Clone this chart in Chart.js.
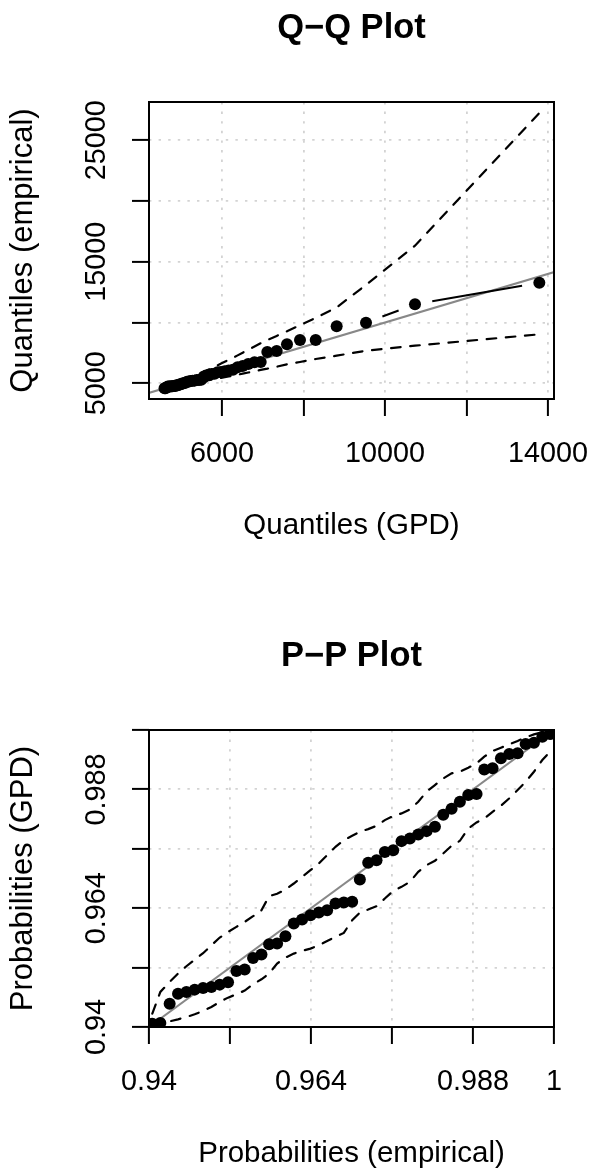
<!DOCTYPE html>
<html>
<head>
<meta charset="utf-8">
<title>GPD diagnostics</title>
<script src="https://cdn.jsdelivr.net/npm/chart.js@4.4.1/dist/chart.umd.min.js"></script>
<style>
  html, body { margin: 0; padding: 0; background: #fff; overflow: hidden; }
  #wrap { position: relative; width: 593px; height: 1170px; overflow: hidden; background: #fff; }
  .panel { position: absolute; left: 0; width: 593px; height: 628px; }
</style>
</head>
<body>
<div id="wrap">
  <div class="panel" style="top:0"><canvas id="qq" width="593" height="628"></canvas></div>
  <div class="panel" style="top:628px"><canvas id="pp" width="593" height="628"></canvas></div>
</div>
<script>
// ---- Q-Q data: theoretical GPD quantiles vs. sorted exceedances ----
const qqTheoretical = [4590, 4615, 4644, 4671, 4699, 4728, 4757, 4787, 4818, 4850,
  4883, 4917, 4953, 4989, 5024, 5061, 5101, 5143, 5187, 5232,
  5279, 5328, 5380, 5434, 5490, 5545, 5607, 5673, 5742, 5816,
  5894, 5978, 6068, 6164, 6269, 6383, 6508, 6644, 6798, 6950,
  7112, 7342, 7595, 7914, 8299, 8814, 9534, 10736, 13787];
const qqEmpirical = [4594, 4597, 4681, 4727, 4735, 4746, 4754, 4759, 4770, 4782,
  4840, 4847, 4911, 4930, 4991, 4995, 5041, 5125, 5152, 5183,
  5203, 5220, 5271, 5279, 5284, 5476, 5644, 5673, 5765, 5789,
  5903, 5939, 5996, 6044, 6111, 6316, 6432, 6582, 6740, 6750,
  7576, 7658, 8210, 8564, 8564, 9691, 9988, 11502, 13280];
const qqUpper = [4700, 4734, 4772, 4809, 4846, 4885, 4924, 4964, 5006, 5049,
  5093, 5139, 5187, 5235, 5281, 5328, 5379, 5433, 5489, 5547,
  5607, 5670, 5736, 5806, 5877, 5948, 6027, 6128, 6241, 6361,
  6488, 6625, 6772, 6928, 7099, 7297, 7518, 7759, 8031, 8300,
  8560, 8900, 9280, 9780, 10380, 11250, 13100, 16325, 27247];
const qqLower = [4510, 4528, 4548, 4567, 4587, 4608, 4628, 4649, 4671, 4694,
  4717, 4741, 4767, 4792, 4816, 4841, 4868, 4896, 4926, 4956,
  4987, 5020, 5055, 5092, 5129, 5166, 5208, 5250, 5294, 5340,
  5390, 5443, 5499, 5560, 5628, 5707, 5793, 5887, 5993, 6100,
  6202, 6366, 6564, 6753, 7000, 7272, 7683, 8095, 9033];
const qqDiagonal = [4000, 15000];
const qqXTicks = [6000, 8000, 10000, 12000, 14000];
const qqXLabels = ['6000', '', '10000', '', '14000'];
const qqYTicks = [5000, 10000, 15000, 20000, 25000];
const qqYLabels = ['5000', '', '15000', '', '25000'];

// ---- P-P data: empirical vs. fitted GPD probabilities ----
const ppEmpirical = [0.94049, 0.94168, 0.94306, 0.94430, 0.94554, 0.94677, 0.94801, 0.94924, 0.95048, 0.95171,
  0.95295, 0.95418, 0.95542, 0.95666, 0.95779, 0.95898, 0.96021, 0.96145, 0.96268, 0.96392,
  0.96516, 0.96639, 0.96763, 0.96886, 0.97010, 0.97124, 0.97247, 0.97371, 0.97494, 0.97618,
  0.97741, 0.97865, 0.97989, 0.98112, 0.98236, 0.98359, 0.98483, 0.98606, 0.98730, 0.98853,
  0.98967, 0.99090, 0.99214, 0.99337, 0.99461, 0.99580, 0.99703, 0.99827, 0.99941];
const ppModel = [0.94067, 0.94081, 0.94472, 0.94674, 0.94708, 0.94755, 0.94789, 0.94809, 0.94856, 0.94903,
  0.95133, 0.95160, 0.95396, 0.95463, 0.95672, 0.95685, 0.95834, 0.96090, 0.96171, 0.96258,
  0.96312, 0.96360, 0.96494, 0.96515, 0.96528, 0.96980, 0.97317, 0.97371, 0.97533, 0.97573,
  0.97755, 0.97809, 0.97890, 0.97957, 0.98045, 0.98288, 0.98409, 0.98551, 0.98685, 0.98706,
  0.99204, 0.99225, 0.99427, 0.99515, 0.99528, 0.99717, 0.99744, 0.99865, 0.99919];
const ppUpper = [0.94270, 0.94708, 0.94910, 0.95079, 0.95227, 0.95362, 0.95490, 0.95650, 0.95807, 0.95921,
  0.96022, 0.96124, 0.96238, 0.96360, 0.96643, 0.96690, 0.96778, 0.96899, 0.97034, 0.97169,
  0.97303, 0.97472, 0.97640, 0.97775, 0.97863, 0.97944, 0.97998, 0.98065, 0.98180, 0.98261,
  0.98315, 0.98396, 0.98551, 0.98753, 0.98888, 0.99022, 0.99124, 0.99157, 0.99238, 0.99326,
  0.99461, 0.99575, 0.99643, 0.99710, 0.99778, 0.99852, 0.99912, 0.99953, 0.99987];
const ppLower = [0.94054, 0.94067, 0.94115, 0.94155, 0.94202, 0.94256, 0.94324, 0.94404, 0.94506, 0.94593,
  0.94661, 0.94735, 0.94863, 0.94964, 0.95079, 0.95281, 0.95402, 0.95483, 0.95537, 0.95584,
  0.95652, 0.95739, 0.95820, 0.95901, 0.96157, 0.96312, 0.96373, 0.96440, 0.96596, 0.96751,
  0.96831, 0.96933, 0.97135, 0.97270, 0.97357, 0.97506, 0.97661, 0.97762, 0.98011, 0.98133,
  0.98213, 0.98348, 0.98470, 0.98618, 0.98787, 0.98955, 0.99157, 0.99393, 0.99562];
const ppDiagonal = [0.94, 1];
const ppTicks = [0.94, 0.952, 0.964, 0.976, 0.988, 1];
const ppXLabels = ['0.94', '', '0.964', '', '0.988', '1'];
const ppYLabels = ['0.94', '', '0.964', '', '0.988', ''];

// ---- shared styling ----
Chart.defaults.font.family = "'Liberation Sans', Arial, Helvetica, sans-serif";
Chart.defaults.color = '#000';

const TICK_FONT = 28.8;
const XLAB_FONT = 29.5;
const YLAB_FONT = 31;
const MAIN_FONT = 34.5;
const LEFT_W = 149;     // width of the left axis band
const BOTTOM_H = 229;   // height of the bottom axis band
const GAP = 17.5;       // gap left around each point by the connecting line

const pairs = (xs, ys) => xs.map((x, i) => ({ x: x, y: ys[i] }));

// draw the closed box around the plotting region
const frame = {
  id: 'frame',
  afterDatasetsDraw(chart) {
    const { ctx, chartArea: a } = chart;
    ctx.save();
    ctx.strokeStyle = '#000';
    ctx.lineWidth = 2;
    ctx.strokeRect(a.left, a.top, a.right - a.left, a.bottom - a.top);
    ctx.restore();
  }
};

// solid segments that stop short of both end points (like R's type = "b")
function gapped(ctx) {
  const len = Math.hypot(ctx.p1.x - ctx.p0.x, ctx.p1.y - ctx.p0.y);
  if (len <= 2 * GAP) return [0, len + 50];
  return [0, GAP, len - 2 * GAP, GAP + 50];
}

function axis(position, min, max, ticks, labels, title, labelPad) {
  const vertical = position === 'left';
  return {
    type: 'linear',
    position: position,
    min: min,
    max: max,
    bounds: 'data',
    afterBuildTicks: (s) => { s.ticks = ticks.map(v => ({ value: v })); },
    afterFit: (s) => {
      if (vertical) s.width = LEFT_W; else s.height = BOTTOM_H;
      s.paddingLeft = 0; s.paddingRight = 0; s.paddingTop = 0; s.paddingBottom = 0;
    },
    ticks: {
      autoSkip: false,
      callback: (v, i) => labels[i],
      font: { size: TICK_FONT },
      color: '#000',
      padding: labelPad,
      minRotation: vertical ? 90 : 0,
      maxRotation: vertical ? 90 : 0,
      crossAlign: vertical ? 'center' : 'near'
    },
    grid: {
      color: '#d3d3d3',
      lineWidth: 1.8,
      drawTicks: true,
      tickLength: 17,
      tickColor: '#000',
      tickWidth: 2
    },
    border: { display: false, dash: [2.4, 7.2] },
    title: {
      display: true,
      text: title,
      font: { size: vertical ? YLAB_FONT : XLAB_FONT },
      color: '#000',
      padding: vertical ? { top: 5, bottom: 0 } : { top: 0, bottom: 84 }
    }
  };
}

function band(xs, ys) {
  return {
    data: pairs(xs, ys), showLine: true, pointRadius: 0, borderColor: '#000',
    borderWidth: 2.2, borderDash: [9.6, 9.6], borderCapStyle: 'round', order: 4, clip: 0
  };
}

function diagonal(vals) {
  return {
    data: vals.map(v => ({ x: v, y: v })), showLine: true, pointRadius: 0,
    borderColor: '#888888', borderWidth: 2, order: 3, clip: 0
  };
}

function points(xs, ys) {
  return {
    data: pairs(xs, ys), showLine: false, pointRadius: 6, pointBackgroundColor: '#000',
    pointBorderWidth: 0, pointBorderColor: '#000', order: 0, clip: 0
  };
}

function baseOptions(titleText, xAxis, yAxis) {
  return {
    responsive: false,
    animation: false,
    events: [],
    layout: { padding: { left: 0, right: 39, top: 0, bottom: 0 } },
    plugins: {
      legend: { display: false },
      tooltip: { enabled: false },
      title: {
        display: true, text: titleText, fullSize: false, color: '#000',
        font: { size: MAIN_FONT, weight: 'bold', lineHeight: 1.2 },
        padding: { top: 8, bottom: 52.6 }
      }
    },
    scales: { x: xAxis, y: yAxis }
  };
}

new Chart(document.getElementById('qq'), {
  type: 'scatter',
  data: {
    datasets: [
      points(qqTheoretical, qqEmpirical),
      {
        data: pairs(qqTheoretical, qqEmpirical), showLine: true, pointRadius: 0,
        borderColor: '#000', borderWidth: 2, segment: { borderDash: gapped }, order: 1, clip: 0
      },
      diagonal(qqDiagonal),
      band(qqTheoretical, qqUpper),
      band(qqTheoretical, qqLower)
    ]
  },
  options: baseOptions('Q\u2212Q Plot',
    axis('bottom', 4209, 14147, qqXTicks, qqXLabels, 'Quantiles (GPD)', 21),
    axis('left', 3708, 28152, qqYTicks, qqYLabels, 'Quantiles (empirical)', -5)),
  plugins: [frame]
});

new Chart(document.getElementById('pp'), {
  type: 'scatter',
  data: {
    datasets: [
      points(ppEmpirical, ppModel),
      diagonal(ppDiagonal),
      band(ppEmpirical, ppUpper),
      band(ppEmpirical, ppLower)
    ]
  },
  options: baseOptions('P\u2212P Plot',
    axis('bottom', 0.94, 1, ppTicks, ppXLabels, 'Probabilities (empirical)', 21),
    axis('left', 0.94, 1, ppTicks, ppYLabels, 'Probabilities (GPD)', -1)),
  plugins: [frame]
});
</script>
</body>
</html>
